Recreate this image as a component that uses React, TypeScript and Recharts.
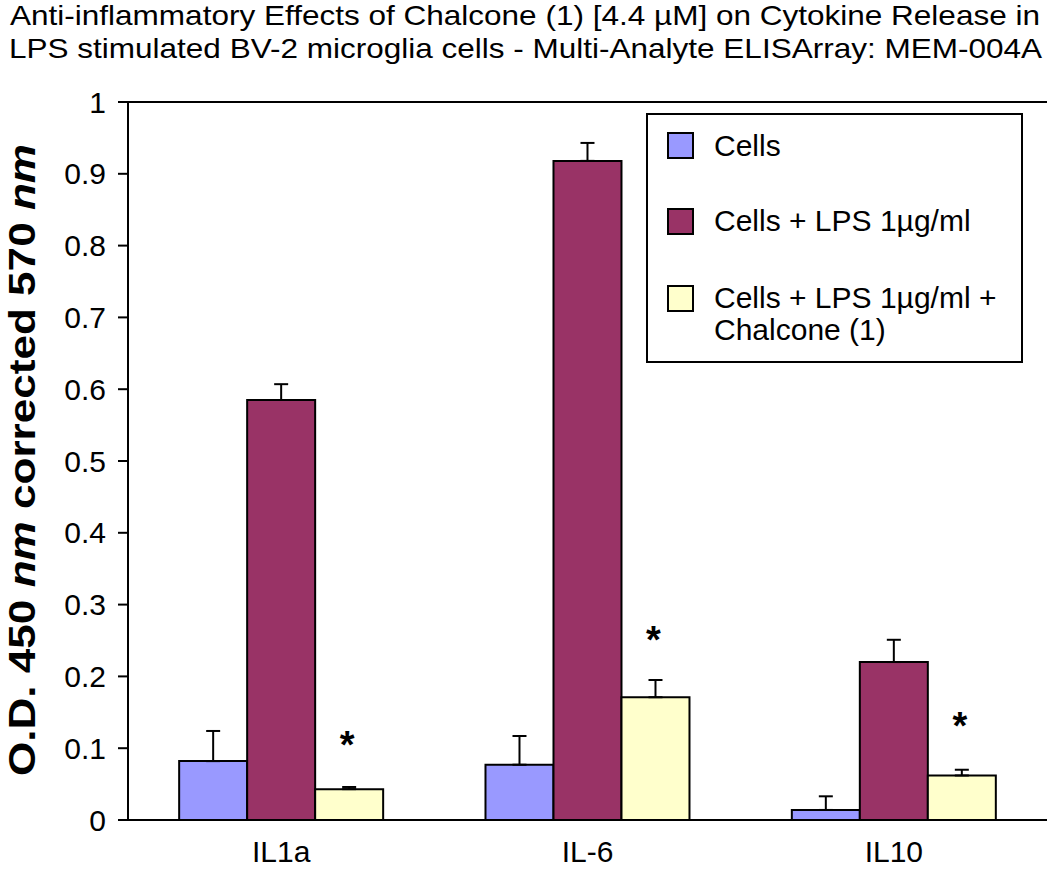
import React from 'react';
import { BarChart, Bar, XAxis, YAxis, ErrorBar, ReferenceLine, ReferenceDot, Legend } from 'recharts';

const categories = ['IL1a', 'IL-6', 'IL10'];
const cellsValues = [0.082, 0.077, 0.014];
const cellsErrors = [0.042, 0.040, 0.019];
const lpsValues = [0.585, 0.918, 0.220];
const lpsErrors = [0.022, 0.025, 0.031];
const chalconeValues = [0.043, 0.171, 0.062];
const chalconeErrors = [0.003, 0.024, 0.008];
const starY = [0.116, 0.262, 0.142];
const yTicks = [0, 0.1, 0.2, 0.3, 0.4, 0.5, 0.6, 0.7, 0.8, 0.9, 1];
const yTickLabels = ['0', '0.1', '0.2', '0.3', '0.4', '0.5', '0.6', '0.7', '0.8', '0.9', '1'];
const boundaryTicks = [0, 1, 2, 3];
const seriesNames = ['Cells', 'Cells + LPS 1µg/ml', 'Cells + LPS 1µg/ml + Chalcone (1)'];
const seriesColors = ['#9999FF', '#993366', '#FFFFCC'];
const titleLines = [
  'Anti-inflammatory Effects of Chalcone (1) [4.4 µM] on Cytokine Release in',
  'LPS stimulated BV-2 microglia cells - Multi-Analyte ELISArray: MEM-004A',
];

const data = categories.map((c, i) => ({
  name: c,
  cells: cellsValues[i],
  cellsErr: [0, cellsErrors[i]],
  lps: lpsValues[i],
  lpsErr: [0, lpsErrors[i]],
  chal: chalconeValues[i],
  chalErr: [0, chalconeErrors[i]],
}));

const FONT = '"Liberation Sans", Arial, Helvetica, sans-serif';

const LegendBox = (props: any) => {
  const payload = props.payload || [];
  const tops = [15, 90, 167];
  return (
    <div
      style={{
        width: 377,
        height: 250,
        boxSizing: 'border-box',
        border: '2px solid #000',
        background: '#fff',
        fontFamily: FONT,
        fontSize: 30,
        color: '#000',
        position: 'relative',
      }}
    >
      {payload.map((p: any, i: number) => (
        <div key={i} style={{ position: 'absolute', left: 19, top: tops[i], display: 'flex', alignItems: 'flex-start' }}>
          <div
            style={{
              width: 23,
              height: 23,
              border: '2px solid #000',
              background: p.color,
              marginTop: i === 0 ? 2 : 3,
              flexShrink: 0,
            }}
          />
          <div style={{ marginLeft: 20, width: 300, lineHeight: '32px' }}>{p.value}</div>
        </div>
      ))}
    </div>
  );
};

const StarShape = (props: any) => {
  const { cx, cy } = props;
  if (cx == null || cy == null) return null;
  return (
    <text x={cx + 66} y={cy + 21} textAnchor="middle" fontFamily={FONT} fontWeight="bold" fontSize={38} fill="#000">
      *
    </text>
  );
};

const YLabel = () => (
  <text
    transform="translate(35, 460) rotate(-90)"
    textAnchor="middle"
    fontFamily={FONT}
    fontWeight="bold"
    fontSize={37}
    fill="#000"
    textLength={632}
    lengthAdjust="spacingAndGlyphs"
  >
    <tspan>O.D. 450 </tspan>
    <tspan fontStyle="italic">nm</tspan>
    <tspan> corrected 570 </tspan>
    <tspan fontStyle="italic">nm</tspan>
  </text>
);

export default function App() {
  return (
    <div style={{ position: 'absolute', left: 0, top: 0, width: 1050, height: 869, background: '#fff' }}>
      <div style={{ position: 'absolute', left: 0, top: 0 }}>
        <BarChart
          width={1050}
          height={869}
          data={data}
          margin={{ top: 102, right: 3, bottom: 0, left: 0 }}
          barGap={0}
          barCategoryGap="16.7%"
        >
          <XAxis
            xAxisId="bnd"
            type="number"
            domain={[0, 3]}
            ticks={boundaryTicks}
            tick={false}
            axisLine={false}
            tickLine={{ stroke: '#000', strokeWidth: 2 }}
            tickSize={9}
            height={0}
            allowDataOverflow
          />
          <XAxis
            xAxisId="cat"
            dataKey="name"
            type="category"
            axisLine={{ stroke: '#000', strokeWidth: 2 }}
            tickLine={false}
            tick={{ fill: '#000', fontSize: 30, fontFamily: FONT }}
            tickMargin={15}
            height={49}
          />
          <YAxis
            domain={[0, 1]}
            ticks={yTicks}
            tickFormatter={(v: number, i: number) => yTickLabels[i]}
            width={128}
            axisLine={{ stroke: '#000', strokeWidth: 2 }}
            tickLine={{ stroke: '#000', strokeWidth: 2 }}
            tickSize={10}
            tick={{ fill: '#000', fontSize: 30, fontFamily: FONT }}
            tickMargin={12}
            interval={0}
            label={{ content: () => <YLabel /> }}
          />
          <YAxis
            yAxisId="r"
            orientation="right"
            domain={[0, 1]}
            width={0}
            tick={false}
            tickLine={false}
            axisLine={{ stroke: '#000', strokeWidth: 2 }}
          />
          <ReferenceLine y={1} xAxisId="cat" stroke="#000" strokeWidth={2} />
          <Legend
            layout="vertical"
            align="center"
            verticalAlign="middle"
            content={<LegendBox />}
            wrapperStyle={{ position: 'absolute', left: 646, top: 113, width: 377, height: 250 }}
          />
          <Bar xAxisId="cat" dataKey="cells" name={seriesNames[0]} fill={seriesColors[0]} stroke="#000" strokeWidth={2} isAnimationActive={false}>
            <ErrorBar dataKey="cellsErr" width={7} stroke="#000" strokeWidth={2} direction="y" isAnimationActive={false} />
          </Bar>
          <Bar xAxisId="cat" dataKey="lps" name={seriesNames[1]} fill={seriesColors[1]} stroke="#000" strokeWidth={2} isAnimationActive={false}>
            <ErrorBar dataKey="lpsErr" width={7} stroke="#000" strokeWidth={2} direction="y" isAnimationActive={false} />
          </Bar>
          <Bar xAxisId="cat" dataKey="chal" name={seriesNames[2]} fill={seriesColors[2]} stroke="#000" strokeWidth={2} isAnimationActive={false}>
            <ErrorBar dataKey="chalErr" width={7} stroke="#000" strokeWidth={2} direction="y" isAnimationActive={false} />
          </Bar>
          {categories.map((c, i) => (
            <ReferenceDot key={c} xAxisId="cat" x={c} y={starY[i]} r={0} shape={<StarShape />} />
          ))}
        </BarChart>
      </div>
      <svg width={1050} height={70} style={{ position: 'absolute', left: 0, top: 0 }}>
        <text x={10} y={25} fontFamily={FONT} fontSize={28} fill="#000" textLength={1030} lengthAdjust="spacingAndGlyphs">
          {titleLines[0]}
        </text>
        <text x={9} y={58} fontFamily={FONT} fontSize={28} fill="#000" textLength={1033} lengthAdjust="spacingAndGlyphs">
          {titleLines[1]}
        </text>
      </svg>
    </div>
  );
}
